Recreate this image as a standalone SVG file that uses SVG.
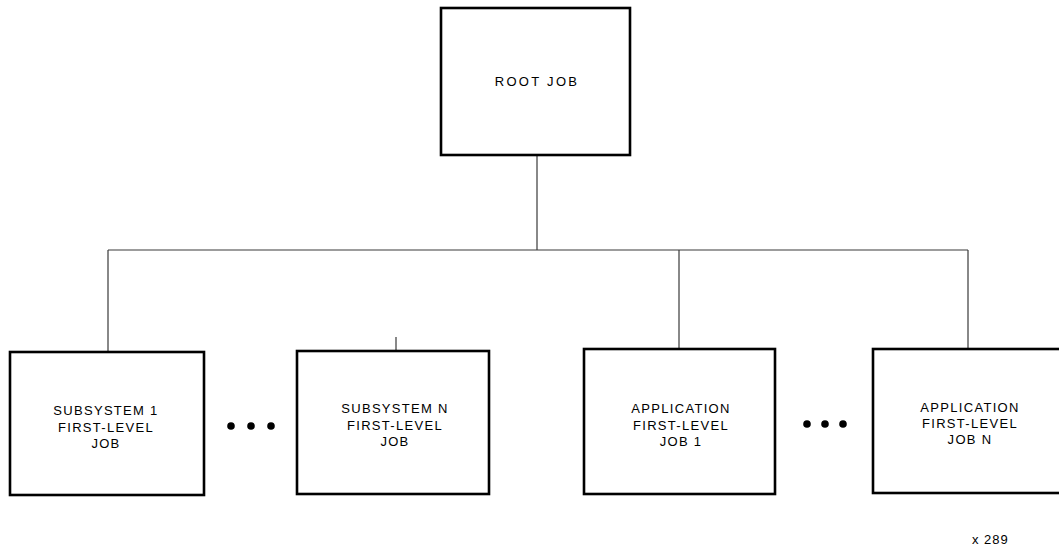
<svg xmlns="http://www.w3.org/2000/svg" width="1059" height="548" viewBox="0 0 1059 548">
<style>
.box{fill:#fff;stroke:#000;stroke-width:2.6}
.lbl{font-family:"Liberation Sans",Arial,sans-serif;font-size:13px;letter-spacing:1.3px;fill:#000;text-anchor:middle}
.con{fill:none;stroke:#3a3a3a;stroke-width:1.2}
.dot{fill:#000}
</style>
<rect width="1059" height="548" fill="#fff"/>
<g id="connectors">
<path class="con" d="M537 155 V250 M108 250 H968 M108 250 V352 M396 337 V351 M679 250 V349 M968 250 V349"/>
</g>
<g id="root">
<rect class="box" x="441" y="8" width="189" height="147"/>
<text class="lbl" x="537" y="86" style="letter-spacing:2.3px">ROOT JOB</text>
</g>
<g id="sub1">
<rect class="box" x="10" y="352" width="194" height="143"/>
<text class="lbl" x="106" y="415">SUBSYSTEM 1</text>
<text class="lbl" x="106" y="432">FIRST-LEVEL</text>
<text class="lbl" x="106" y="448">JOB</text>
</g>
<g id="dots1">
<circle class="dot" cx="231" cy="426" r="3.8"/>
<circle class="dot" cx="251" cy="426" r="3.8"/>
<circle class="dot" cx="271" cy="426" r="3.8"/>
</g>
<g id="subN">
<rect class="box" x="297" y="351" width="192" height="143"/>
<text class="lbl" x="395" y="413">SUBSYSTEM N</text>
<text class="lbl" x="395" y="430">FIRST-LEVEL</text>
<text class="lbl" x="395" y="446">JOB</text>
</g>
<g id="app1">
<rect class="box" x="584" y="349" width="191" height="145"/>
<text class="lbl" x="681" y="413">APPLICATION</text>
<text class="lbl" x="681" y="430">FIRST-LEVEL</text>
<text class="lbl" x="681" y="446">JOB 1</text>
</g>
<g id="dots2">
<circle class="dot" cx="807" cy="424" r="3.8"/>
<circle class="dot" cx="825" cy="424" r="3.8"/>
<circle class="dot" cx="843" cy="424" r="3.8"/>
</g>
<g id="appN">
<rect class="box" x="873" y="349" width="195" height="144"/>
<text class="lbl" x="970" y="412">APPLICATION</text>
<text class="lbl" x="970" y="428">FIRST-LEVEL</text>
<text class="lbl" x="970" y="444">JOB N</text>
</g>
<text x="972" y="544" font-family="Liberation Sans,Arial,sans-serif" font-size="13" letter-spacing="1">x 289</text>
</svg>
